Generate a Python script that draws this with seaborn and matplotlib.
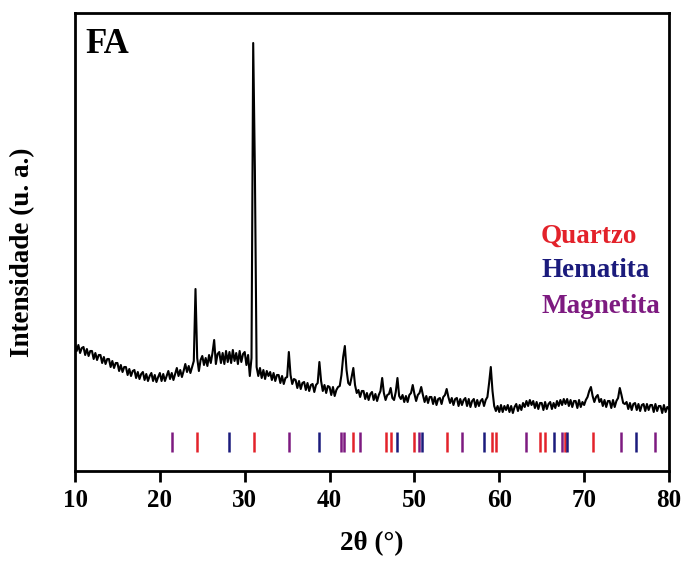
import numpy as np
import pandas as pd
import matplotlib
matplotlib.use("Agg")
import matplotlib.pyplot as plt
import seaborn as sns

# ---------------- data ----------------
two_theta_start, two_theta_end, two_theta_step = 10.0, 80.0, 0.2
intensity = [
    127, 120, 126, 118, 123,   # 10
    124, 116, 122, 115, 120,   # 11
    120, 112, 118, 111, 116,   # 12
    116, 108, 114, 107, 112,   # 13
    112, 104, 110, 103, 108,   # 14
    108, 100, 106, 99, 104,    # 15
    104, 96, 102, 95, 100,     # 16
    101, 93, 99, 92, 97,       # 17
    99, 91, 97, 90, 95,        # 18
    98, 90, 96, 89, 94,        # 19
    98, 90, 97, 90, 95,        # 20
    100, 92, 98, 91, 97,       # 21
    103, 95, 101, 94, 100,     # 22
    107, 99, 105, 98, 104,     # 23
    110, 182, 113, 100, 111,   # 24
    115, 106, 113, 105, 116,   # 25
    108, 118, 131, 107, 117,   # 26
    119, 108, 118, 107, 120,   # 27
    109, 119, 108, 121, 110,   # 28
    118, 107, 120, 109, 117,   # 29
    119, 106, 116, 95, 113,    # 30
    428, 300, 104, 95, 103,    # 31
    93, 101, 92, 100, 95,      # 32
    99, 91, 98, 90, 96,        # 33
    96, 88, 95, 87, 93,        # 34
    94, 119, 96, 87, 92,       # 35
    91, 83, 90, 82, 88,        # 36
    89, 81, 88, 80, 86,        # 37
    87, 79, 86, 88, 109,       # 38
    90, 80, 86, 78, 85,        # 39
    84, 76, 84, 75, 81,        # 40
    84, 85, 96, 114, 125,      # 41
    101, 88, 86, 94, 103,      # 42
    86, 78, 81, 74, 80,        # 43
    80, 72, 78, 71, 77,        # 44
    79, 71, 77, 70, 76,        # 45
    80, 93, 78, 71, 76,        # 46
    77, 83, 73, 71, 79,        # 47
    93, 75, 72, 76, 69,        # 48
    75, 69, 76, 78, 86,        # 49
    77, 70, 76, 78, 84,        # 50
    76, 69, 75, 68, 74,        # 51
    74, 67, 74, 66, 72,        # 52
    73, 67, 74, 76, 82,        # 53
    74, 68, 73, 66, 72,        # 54
    73, 65, 72, 66, 71,        # 55
    73, 65, 72, 64, 70,        # 56
    72, 64, 71, 65, 70,        # 57
    72, 65, 71, 74, 88,        # 58
    104, 80, 65, 60, 65,       # 59
    59, 66, 59, 65, 61,        # 60
    66, 59, 65, 58, 64,        # 61
    67, 60, 66, 61, 68,        # 62
    64, 70, 65, 71, 66,        # 63
    70, 63, 69, 62, 68,        # 64
    68, 61, 69, 62, 67,        # 65
    69, 62, 68, 63, 70,        # 66
    65, 71, 66, 72, 67,        # 67
    72, 65, 71, 64, 70,        # 68
    70, 63, 71, 64, 69,        # 69
    66, 71, 74, 80, 84,        # 70
    75, 69, 74, 76, 69,        # 71
    72, 65, 71, 64, 70,        # 72
    70, 63, 71, 64, 70,        # 73
    73, 83, 76, 68, 67,        # 74
    69, 62, 68, 61, 67,        # 75
    68, 61, 67, 60, 66,        # 76
    67, 60, 67, 61, 66,        # 77
    66, 59, 67, 60, 65,        # 78
    65, 58, 66, 59, 64,        # 79
    62,                        # 80
]

quartzo_pos = [24.4, 31.1, 42.8, 46.6, 47.2, 49.9, 53.8, 59.1, 59.6, 64.8, 65.4, 67.7, 71.1]
hematita_pos = [28.2, 38.8, 48.0, 50.9, 58.2, 66.4, 68.0, 76.1]
magnetita_pos = [21.4, 35.2, 41.35, 41.75, 43.6, 50.5, 55.6, 63.1, 67.4, 74.3, 78.4]

phase_names = ["Quartzo", "Hematita", "Magnetita"]
phase_colors = ["#E3222A", "#1B1B7C", "#7D1A80"]

x_ticks = [10, 20, 30, 40, 50, 60, 70, 80]

# ---------------- plot ----------------
sns.set_theme(style="white")
plt.rcParams["font.family"] = ["Liberation Serif", "DejaVu Serif"]
plt.rcParams["font.weight"] = "bold"
plt.rcParams["text.color"] = "black"
plt.rcParams["axes.labelcolor"] = "black"
plt.rcParams["xtick.color"] = "black"
plt.rcParams["ytick.color"] = "black"

two_theta = np.round(np.arange(two_theta_start, two_theta_end + 1e-9, two_theta_step), 2)
df = pd.DataFrame({"2theta": two_theta, "I": intensity})

fig = plt.figure(figsize=(6.84, 5.61), dpi=100)
ax = fig.add_axes([75 / 684, 1 - 471 / 561, 594 / 684, 458 / 561])

sns.lineplot(data=df, x="2theta", y="I", ax=ax, color="black", lw=1.5, estimator=None)

for pos_list, col in zip([quartzo_pos, hematita_pos, magnetita_pos], phase_colors):
    ax.vlines(pos_list, 19.5, 39.5, colors=col, lw=1.8)

ax.set_xlim(10, 80)
ax.set_ylim(0, 458)
ax.set_xticks(x_ticks)
ax.set_xticklabels([str(t) for t in x_ticks], fontsize=18, fontweight="bold", color="black")
ax.set_yticks([])
ax.tick_params(axis="x", direction="out", length=8, width=2, color="black", pad=5,
               bottom=True, top=False, labelcolor="black")
for sp in ax.spines.values():
    sp.set_visible(True)
    sp.set_color("black")
    sp.set_linewidth(2)

ax.set_xlabel("2θ (°)", fontsize=19.5, fontweight="bold", labelpad=14, color="black")
ax.set_ylabel("Intensidade (u. a.)", fontsize=19.5, fontweight="bold", va="center", color="black")
ax.yaxis.set_label_coords((23 - 75) / 594, (471 - 252) / 458)

ax.text(0.018, (471 - 53) / 458, "FA", transform=ax.transAxes, fontsize=25,
        fontweight="bold", ha="left", va="baseline", color="black")

baselines = [243, 277, 313]
for name, col, b in zip(phase_names, phase_colors, baselines):
    ax.text((541 - 75) / 594, (471 - b) / 458, name, transform=ax.transAxes,
            fontsize=19.5, fontweight="bold", color=col, ha="left", va="baseline")

fig.savefig("out.png", dpi=100)
